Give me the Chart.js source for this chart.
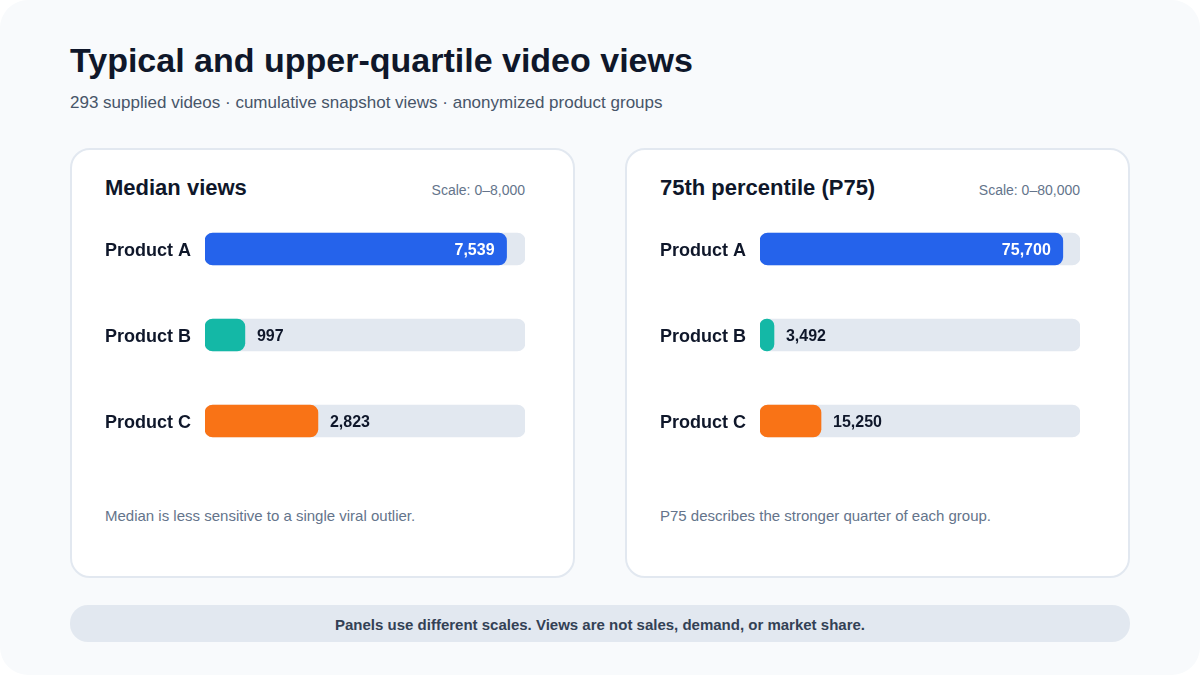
<!DOCTYPE html>
<html>
<head>
<meta charset="utf-8">
<script src="https://cdn.jsdelivr.net/npm/chart.js@4.4.1/dist/chart.umd.min.js"></script>
<style>
    html, body { margin: 0; padding: 0; background: #ffffff; }
    body { width: 1200px; height: 675px; overflow: hidden; font-family: "Liberation Sans", Arial, sans-serif; }
    .frame { position: absolute; left: 0; top: 0; width: 1200px; height: 675px; background: #f8fafc; border-radius: 28px; }
    .abs { position: absolute; line-height: 1; white-space: nowrap; }
    .title { left: 70px; top: 43px; font-size: 34px; font-weight: 700; color: #0f172a; }
    .subtitle { left: 70px; top: 94px; font-size: 17px; color: #475569; }
    .panel { position: absolute; top: 148px; width: 501px; height: 426px; background: #ffffff; border: 2px solid #e2e8f0; border-radius: 20px; }
    .panel-title { font-size: 22px; font-weight: 700; color: #0f172a; top: 177px; }
    .scale { font-size: 14px; color: #64748b; top: 183px; text-align: right; }
    .note { font-size: 15px; color: #64748b; top: 508px; }
    canvas { position: absolute; top: 206px; }
    .pill { position: absolute; left: 70px; top: 605px; width: 1060px; height: 37px; background: #e2e8f0; border-radius: 18px; }
    .pill-text { left: 70px; width: 1060px; top: 617px; text-align: center; font-size: 15px; font-weight: 700; color: #334155; }
</style>
</head>
<body>
<div class="frame"></div>
<div class="abs title">Typical and upper-quartile video views</div>
<div class="abs subtitle">293 supplied videos · cumulative snapshot views · anonymized product groups</div>

<div class="panel" style="left: 70px;"></div>
<div class="panel" style="left: 625px;"></div>

<div class="abs panel-title" style="left: 105px;">Median views</div>
<div class="abs scale" style="left: 325px; width: 200px;">Scale: 0–8,000</div>
<canvas id="medianChart" width="420" height="258" style="left: 105px;"></canvas>
<div class="abs note" style="left: 105px;">Median is less sensitive to a single viral outlier.</div>

<div class="abs panel-title" style="left: 660px;">75th percentile (P75)</div>
<div class="abs scale" style="left: 880px; width: 200px;">Scale: 0–80,000</div>
<canvas id="p75Chart" width="420" height="258" style="left: 660px;"></canvas>
<div class="abs note" style="left: 660px;">P75 describes the stronger quarter of each group.</div>

<div class="pill"></div>
<div class="abs pill-text">Panels use different scales. Views are not sales, demand, or market share.</div>

<script>
const products = ['Product A', 'Product B', 'Product C'];
const productColors = ['#2563eb', '#14b8a6', '#f97316'];
const medianViews = [7539, 997, 2823];
const p75Views = [75700, 3492, 15250];
const medianMax = 8000;
const p75Max = 80000;

Chart.defaults.font.family = '"Liberation Sans", Arial, sans-serif';

// value labels: inside the bar when it is long, otherwise just past its end
const valueLabels = {
    id: 'valueLabels',
    afterDatasetsDraw(chart) {
        const ctx = chart.ctx;
        const meta = chart.getDatasetMeta(1);
        const values = chart.data.datasets[1].data;
        const max = chart.options.scales.x.max;
        ctx.save();
        ctx.font = 'bold 16px "Liberation Sans", Arial, sans-serif';
        ctx.textBaseline = 'middle';
        meta.data.forEach((bar, i) => {
            const label = values[i].toLocaleString('en-US');
            if (values[i] / max >= 0.5) {
                ctx.fillStyle = '#ffffff';
                ctx.textAlign = 'right';
                ctx.fillText(label, bar.x - 12, bar.y + 2);
            } else {
                ctx.fillStyle = '#0f172a';
                ctx.textAlign = 'left';
                ctx.fillText(label, bar.x + 12, bar.y + 2);
            }
        });
        ctx.restore();
    }
};

function renderPanel(id, values, max) {
    const ctx = document.getElementById(id).getContext('2d');
    new Chart(ctx, {
        type: 'bar',
        data: {
            labels: products,
            datasets: [{
                // background track
                data: products.map(() => max),
                backgroundColor: '#e2e8f0',
                borderRadius: 8,
                borderSkipped: false,
                barThickness: 32,
                grouped: false,
                order: 2
            }, {
                data: values,
                backgroundColor: productColors,
                borderRadius: 8,
                borderSkipped: false,
                barThickness: 32,
                grouped: false,
                order: 1
            }]
        },
        options: {
            indexAxis: 'y',
            responsive: false,
            animation: false,
            devicePixelRatio: 1,
            layout: { padding: 0 },
            plugins: {
                legend: { display: false },
                tooltip: { enabled: false }
            },
            scales: {
                x: { display: false, min: 0, max: max },
                y: {
                    grid: { display: false },
                    border: { display: false },
                    afterFit: (scale) => {
                        scale.width = 100;
                        scale.paddingTop = 0;
                        scale.paddingBottom = 0;
                    },
                    ticks: {
                        crossAlign: 'far',
                        padding: 0,
                        labelOffset: 2,
                        color: '#0f172a',
                        font: { size: 18, weight: 'bold' }
                    }
                }
            }
        },
        plugins: [valueLabels]
    });
}

renderPanel('medianChart', medianViews, medianMax);
renderPanel('p75Chart', p75Views, p75Max);
</script>
</body>
</html>
